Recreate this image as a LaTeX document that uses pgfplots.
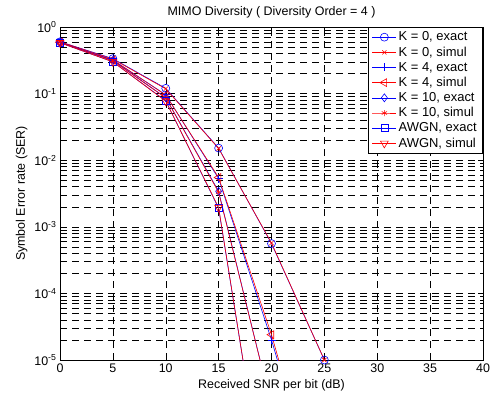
\documentclass[border=0pt]{standalone}
\usepackage{fontspec}
\setmainfont{Liberation Sans}
\usepackage{pgfplots}
\pgfplotsset{compat=1.18}
\definecolor{mblue}{RGB}{0,0,255}
\definecolor{mred}{RGB}{255,0,0}
\begin{document}
\begin{tikzpicture}
\begin{axis}[
  scale only axis, width=423bp, height=333bp,
  xmin=0, xmax=40, ymin=1e-5, ymax=1,
  ymode=log, log basis y=10,
  xtick={0,5,...,40},
  ytick={1e-5,1e-4,1e-3,1e-2,1e-1,1},
  minor ytick={2e-5,3e-5,4e-5,5e-5,6e-5,7e-5,8e-5,9e-5,
               2e-4,3e-4,4e-4,5e-4,6e-4,7e-4,8e-4,9e-4,
               2e-3,3e-3,4e-3,5e-3,6e-3,7e-3,8e-3,9e-3,
               2e-2,3e-2,4e-2,5e-2,6e-2,7e-2,8e-2,9e-2,
               2e-1,3e-1,4e-1,5e-1,6e-1,7e-1,8e-1,9e-1},
  yticklabels={10\textsuperscript{-5},10\textsuperscript{-4},10\textsuperscript{-3},10\textsuperscript{-2},10\textsuperscript{-1},10\textsuperscript{0}},
  grid=both,
  major grid style={black, line width=0.5bp, dash pattern=on 7bp off 5bp},
  minor grid style={black, line width=0.5bp, dash pattern=on 7bp off 5bp},
  tick align=inside, major tick length=5bp, minor tick length=3bp,
  axis line style={line width=0.8bp},
  every tick/.style={black, line width=0.5bp},
  font=\fontsize{12.5}{15}\selectfont,
  /pgf/number format/assume math mode=true,
  title={MIMO Diversity ( Diversity Order = 4 )},
  title style={yshift=-1bp},
  xlabel={Received SNR per bit (dB)},
  ylabel={Symbol Error rate (SER)},
  legend cell align=left,
  legend style={at={(1,1)}, anchor=north east, draw=black, line width=0.8bp, fill=white, font=\fontsize{13}{14}\selectfont, row sep=0.5bp, inner xsep=4bp, inner ysep=2.5bp},
  legend image code/.code={\draw[mark repeat=2,mark phase=2] plot coordinates {(0bp,0bp) (12bp,0bp) (24bp,0bp)};},
  every axis plot/.append style={line width=0.6bp},
]
\addplot[draw=mblue, mark=o, mark size=4bp, mark options={draw=mblue}] coordinates {(0,0.60) (5,0.335) (10,0.120) (15,0.0152) (20,5.6e-4) (25,1.0e-5)};
\addlegendentry{K = 0, exact}
\addplot[draw=mred, mark=x, mark size=3bp, mark options={draw=mred}] coordinates {(0,0.60) (5,0.33) (10,0.118) (15,0.0150) (20,5.7e-4) (25,1.0e-5)};
\addlegendentry{K = 0, simul}
\addplot[draw=mblue, mark=+, mark size=4bp, mark options={draw=mblue}] coordinates {(0,0.59) (5,0.32) (10,0.096) (15,5.3e-3) (20,2.0e-5) (25,4e-8)};
\addlegendentry{K = 4, exact}
\addplot[draw=mred, mark=triangle, mark options={draw=mred, rotate=90}, mark size=4.5bp] coordinates {(0,0.59) (5,0.32) (10,0.095) (15,5.5e-3) (20,2.4e-5) (25,4e-8)};
\addlegendentry{K = 4, simul}
\addplot[draw=mblue, mark=diamond, mark size=4bp, mark options={draw=mblue}] coordinates {(0,0.59) (5,0.315) (10,0.087) (15,3.4e-3) (20,2e-6)};
\addlegendentry{K = 10, exact}
\addplot[draw=mred, mark=asterisk, mark size=3bp, mark options={draw=mred}] coordinates {(0,0.59) (5,0.31) (10,0.086) (15,3.3e-3) (20,2e-6)};
\addlegendentry{K = 10, simul}
\addplot[draw=mblue, mark=square, mark size=3.5bp, mark options={draw=mblue}] coordinates {(0,0.58) (5,0.30) (10,0.078) (15,1.9e-3) (20,2.1e-8)};
\addlegendentry{AWGN, exact}
\addplot[draw=mred, mark=triangle, mark options={draw=mred, rotate=180}, mark size=4.5bp] coordinates {(0,0.58) (5,0.30) (10,0.077) (15,1.95e-3) (20,2.1e-8)};
\addlegendentry{AWGN, simul}
\end{axis}
\pgfresetboundingbox
\path (current axis.south west)+(-60bp,-39bp) coordinate (bl);
\path (current axis.north east)+(14bp,27bp) coordinate (tr);
\path (bl) rectangle (tr);
\end{tikzpicture}
\end{document}
